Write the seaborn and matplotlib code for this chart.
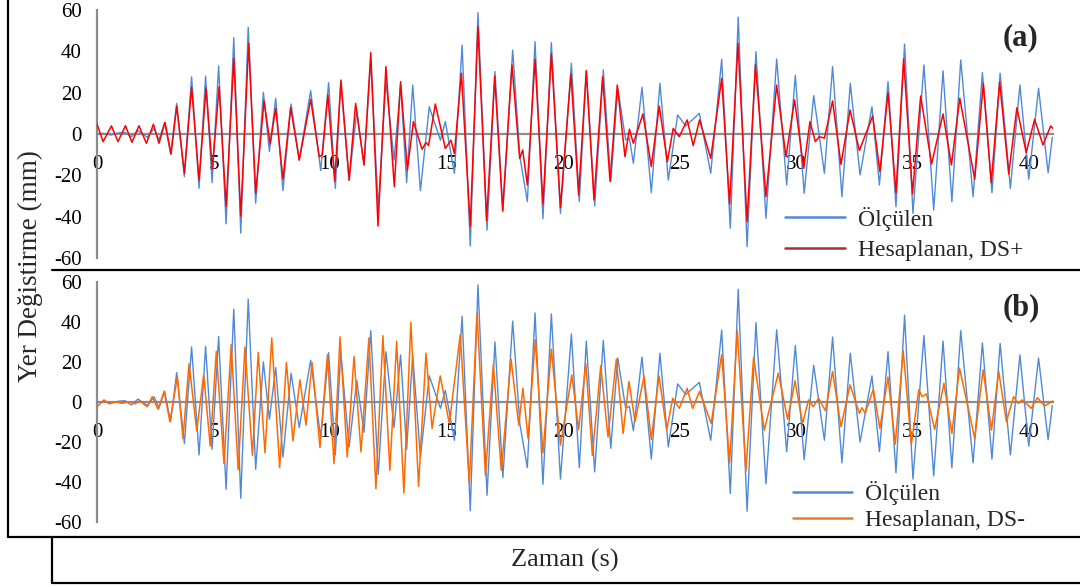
import matplotlib
matplotlib.use("Agg")
import matplotlib.pyplot as plt
from matplotlib.lines import Line2D
import pandas as pd
import seaborn as sns

# ---- measured displacement (Ölçülen): time [s], value [mm] at turning points ----
t_olc = [0.00, 0.26, 0.60, 0.90, 1.20, 1.47, 1.76, 2.16, 2.45, 2.66, 2.90, 3.16, 3.42, 3.75,
         4.06, 4.38, 4.66, 4.94, 5.22, 5.54, 5.87, 6.17, 6.49, 6.81, 7.14, 7.40, 7.67, 7.98,
         8.33, 8.68, 9.17, 9.60, 9.94, 10.23, 10.46, 10.82, 11.15, 11.46, 11.75, 12.07, 12.40,
         12.75, 13.03, 13.29, 13.55, 13.88, 14.26, 14.74, 14.95, 15.34, 15.67, 16.02, 16.35,
         16.74, 17.08, 17.42, 17.84, 18.15, 18.47, 18.80, 19.14, 19.50, 19.89, 20.36, 20.70,
         21.00, 21.36, 21.73, 22.05, 22.35, 22.69, 22.85, 23.02, 23.39, 23.79, 24.16, 24.52,
         24.92, 25.27, 25.85, 26.34, 26.81, 27.18, 27.52, 27.90, 28.28, 28.71, 29.17, 29.60,
         29.97, 30.35, 30.76, 31.22, 31.57, 31.97, 32.33, 32.75, 33.26, 33.58, 33.95, 34.29,
         34.66, 35.02, 35.49, 35.91, 36.31, 36.69, 37.07, 37.60, 38.00, 38.41, 38.76, 39.20,
         39.61, 39.99, 40.41, 40.82, 41.00]
v_olc = [0.0, 0.3, -0.5, 0.5, 0.8, -1.3, 1.6, -1.6, 2.7, -2.9, 5.6, -9.7, 14.8, -20.6,
         27.7, -26.3, 28.0, -23.5, 32.9, -43.5, 46.6, -48.0, 51.6, -33.5, 20.2, -8.5, 17.3, -27.4,
         14.5, -12.6, 21.0, -17.7, 24.8, -26.3, 24.8, -22.3, 10.8, -15.0, 35.8, -36.0, 25.3,
         -12.6, 23.7, -23.5, 23.7, -27.4, 13.2, -3.0, 6.0, -19.0, 43.0, -54.2, 58.7,
         -46.5, 30.2, -37.6, 40.6, -11.0, -32.7, 44.7, -41.0, 44.2, -38.4, 34.2, -32.7,
         30.6, -34.8, 31.0, -23.0, 22.1, -2.9, -2.0, -14.2, 22.6, -28.4, 24.5, -22.3,
         9.2, 3.9, 10.0, -19.0, 36.1, -45.6, 56.5, -54.5, 39.8, -40.8, 36.3, -24.7,
         28.4, -28.7, 18.5, -19.0, 32.6, -30.3, 24.5, -19.8, 13.2, -24.7, 25.3, -35.2,
         43.5, -38.4, 33.4, -36.8, 30.6, -32.7, 35.8, -30.3, 29.7, -28.4, 29.4, -26.3,
         23.7, -21.9, 22.1, -18.7, -1.6]

# ---- computed response, DS+ ----
t_dsp = [0.00, 0.26, 0.62, 0.90, 1.22, 1.50, 1.80, 2.12, 2.42, 2.66, 2.92, 3.18, 3.42, 3.75,
         4.06, 4.38, 4.68, 4.95, 5.24, 5.54, 5.87, 6.17, 6.51, 6.81, 7.17, 7.43, 7.67, 7.98,
         8.31, 8.68, 9.17, 9.54, 9.67, 9.91, 10.20, 10.47, 10.82, 11.10, 11.46, 11.75, 12.06,
         12.40, 12.76, 13.03, 13.32, 13.58, 13.95, 14.12, 14.23, 14.52, 14.95, 15.19, 15.34,
         15.64, 16.02, 16.35, 16.72, 17.07, 17.41, 17.81, 18.14, 18.27, 18.47, 18.80, 19.14,
         19.50, 19.89, 20.34, 20.67, 21.00, 21.33, 21.70, 22.02, 22.33, 22.66, 22.85, 23.02,
         23.43, 23.79, 24.13, 24.48, 24.73, 24.99, 25.33, 25.59, 25.86, 26.34, 26.81, 27.15,
         27.51, 27.90, 28.26, 28.71, 29.17, 29.57, 29.94, 30.33, 30.60, 30.83, 31.00, 31.22,
         31.57, 31.93, 32.32, 32.72, 33.29, 33.60, 33.95, 34.29, 34.62, 35.00, 35.35, 35.82,
         36.31, 36.67, 37.03, 37.67, 38.04, 38.38, 38.74, 39.13, 39.48, 39.88, 40.24, 40.60,
         40.93, 41.03]
v_dsp = [4.8, -3.7, 3.9, -3.7, 4.0, -4.0, 4.0, -4.5, 4.7, -4.5, 5.6, -9.7, 13.5, -19.0,
         22.6, -22.3, 22.3, -17.0, 22.9, -35.0, 36.6, -39.7, 43.9, -28.7, 16.1, -4.8, 12.4, -21.9,
         12.9, -12.6, 16.8, -11.0, -10.0, 18.9, -23.0, 26.1, -22.3, 14.8, -15.0, 39.4, -44.5,
         32.6, -25.5, 25.3, -17.4, 6.0, -7.4, -4.2, -5.6, 14.5, -7.0, -3.0, -9.4,
         29.4, -44.8, 51.9, -41.9, 28.0, -37.0, 33.4, -11.8, -7.7, -24.7, 36.1, -33.9,
         38.7, -35.5, 29.0, -29.5, 30.6, -31.9, 27.7, -23.0, 23.7, -11.0, 2.3, -4.5,
         9.7, -15.8, 13.5, -13.4, 2.7, -1.3, 6.8, -5.6, 6.8, -11.8, 26.9, -33.9,
         43.9, -42.4, 33.4, -30.3, 23.7, -11.0, 16.5, -16.6, 6.0, -3.7, -1.3, -2.0,
         16.0, -14.7, 11.6, -8.0, 8.7, -18.2, 20.0, -28.4, 36.4, -29.0, 18.4, -14.5,
         9.7, -15.0, 17.3, -21.9, 24.5, -23.5, 25.3, -19.4, 12.7, -9.0, 7.1, -5.3,
         3.9, 2.7]

# ---- computed response, DS- ----
t_dsm = [0.00, 0.30, 0.54, 0.76, 1.06, 1.40, 1.62, 1.83, 2.16, 2.37, 2.62, 2.88, 3.13, 3.45,
         3.69, 3.95, 4.28, 4.58, 4.86, 5.12, 5.45, 5.76, 6.06, 6.35, 6.67, 6.92, 7.21, 7.50,
         7.84, 8.13, 8.41, 8.71, 8.97, 9.23, 9.57, 9.89, 10.17, 10.43, 10.74, 11.03, 11.33,
         11.67, 11.97, 12.27, 12.57, 12.86, 13.17, 13.47, 13.80, 14.12, 14.38, 14.73, 15.12,
         15.59, 15.98, 16.31, 16.67, 17.01, 17.35, 17.77, 18.10, 18.28, 18.50, 18.81, 19.14,
         19.50, 19.89, 20.38, 20.67, 20.98, 21.26, 21.62, 21.93, 22.29, 22.58, 22.83, 23.09,
         23.48, 23.79, 24.12, 24.45, 24.71, 24.99, 25.33, 25.56, 25.86, 26.36, 26.81, 27.15,
         27.48, 27.85, 28.18, 28.64, 29.24, 29.64, 29.96, 30.28, 30.54, 30.74, 30.97, 31.26,
         31.57, 31.93, 32.32, 32.72, 32.83, 32.97, 33.32, 33.60, 33.95, 34.26, 34.60, 34.95,
         35.27, 35.42, 35.60, 35.95, 36.35, 36.69, 37.02, 37.67, 38.03, 38.39, 38.70, 39.03,
         39.34, 39.53, 39.71, 40.10, 40.36, 40.67, 41.03]
v_dsm = [-2.2, 1.2, -0.8, 0.3, -0.5, 0.3, -0.8, 0.7, -2.2, 2.8, -3.5, 5.4, -9.7, 12.9,
         -18.1, 19.3, -14.2, 13.7, -21.9, 25.5, -30.7, 28.8, -33.7, 27.6, -26.5, 25.0, -25.3, 32.2,
         -32.7, 19.9, -19.3, 11.2, -11.4, 19.9, -22.6, 23.8, -30.7, 32.7, -27.3, 22.9, -24.8,
         32.2, -43.2, 33.3, -34.0, 30.5, -45.4, 40.0, -42.0, 24.6, -13.1, 13.2, -10.6,
         33.8, -40.4, 44.7, -36.5, 18.8, -34.0, 21.6, -11.4, 7.0, -18.1, 31.3, -25.3,
         26.6, -21.4, 13.7, -13.6, 19.3, -26.5, 18.3, -17.3, 21.6, -15.6, 10.4, -9.7,
         13.2, -18.6, 13.2, -13.9, 2.0, -3.0, 7.0, -3.0, 5.4, -10.6, 23.8, -30.3,
         35.8, -34.3, 22.4, -13.9, 14.6, -8.5, 10.7, -10.6, 1.2, -2.2, 2.0, -4.2,
         15.4, -12.2, 8.7, -5.5, -2.7, -5.5, 6.5, -13.1, 12.6, -20.9, 25.8, -20.9,
         6.2, 2.8, 4.2, -13.6, 9.5, -15.6, 17.1, -18.1, 16.2, -13.9, 15.4, -9.7,
         2.8, -0.5, 1.2, -3.0, 2.3, -1.8, 0.7]

x_ticks = [0, 5, 10, 15, 20, 25, 30, 35, 40]
y_ticks = [-60, -40, -20, 0, 20, 40, 60]
lbl_olc = "Ölçülen"
lbl_dsp = "Hesaplanan, DS+"
lbl_dsm = "Hesaplanan, DS-"

BLUE = "#5089d8"
RED = "#ff0000"
RED_KEY = "#a83232"
ORANGE = "#ff6a00"
ORANGE_KEY = "#ec7a2c"
AXIS_GREY = "#8c8c8c"

sns.set_style("white")
plt.rcParams["font.family"] = ["Liberation Serif", "DejaVu Serif"]
plt.rcParams["lines.solid_joinstyle"] = "round"
plt.rcParams["path.simplify"] = False

W, H = 1080, 587
fig = plt.figure(figsize=(W / 100, H / 100), dpi=100)


def px_box(left, top, right, bottom):
    return [left / W, 1 - bottom / H, (right - left) / W, (bottom - top) / H]


def fx(x):
    return x / W


def fy(y):
    return 1 - y / H


ax_a = fig.add_axes(px_box(97, 10, 1053, 258))
ax_b = fig.add_axes(px_box(97, 282.3, 1053, 522.3))

df_olc = pd.DataFrame({"t": t_olc, "v": v_olc})
df_dsp = pd.DataFrame({"t": t_dsp, "v": v_dsp})
df_dsm = pd.DataFrame({"t": t_dsm, "v": v_dsm})

sns.lineplot(data=df_olc, x="t", y="v", ax=ax_a, color=BLUE, lw=1.0,
             estimator=None, sort=False, legend=False, zorder=3)
sns.lineplot(data=df_dsp, x="t", y="v", ax=ax_a, color=RED, lw=1.1,
             estimator=None, sort=False, legend=False, zorder=4)
sns.lineplot(data=df_olc, x="t", y="v", ax=ax_b, color=BLUE, lw=1.0,
             estimator=None, sort=False, legend=False, zorder=3)
sns.lineplot(data=df_dsm, x="t", y="v", ax=ax_b, color=ORANGE, lw=1.1,
             estimator=None, sort=False, legend=False, zorder=4)

for ax in (ax_a, ax_b):
    ax.patch.set_visible(False)
    ax.set_xlim(0, 41.03)
    ax.set_ylim(-60, 60)
    ax.set_xlabel("")
    ax.set_ylabel("")
    for side in ("top", "right"):
        ax.spines[side].set_visible(False)
    ax.spines["bottom"].set_position(("data", 0))
    for side in ("left", "bottom"):
        ax.spines[side].set_color(AXIS_GREY)
        ax.spines[side].set_linewidth(1.6)
        ax.spines[side].set_zorder(2)
    ax.set_xticks(x_ticks)
    ax.set_xticklabels([str(v) for v in x_ticks])
    ax.set_yticks(y_ticks)
    ax.set_yticklabels([str(v) for v in y_ticks])
    ax.tick_params(axis="x", direction="out", length=4, width=1.2, color=AXIS_GREY,
                   pad=11, labelsize=15, labelcolor="black")
    ax.tick_params(axis="y", length=0, pad=11, labelsize=15, labelcolor="black")
    ax.grid(False)

key_a = [Line2D([], [], color=BLUE, lw=1.8), Line2D([], [], color=RED_KEY, lw=1.8)]
key_b = [Line2D([], [], color=BLUE, lw=1.8), Line2D([], [], color=ORANGE_KEY, lw=1.8)]
ax_a.legend(key_a, [lbl_olc, lbl_dsp], loc="center left", frameon=False, fontsize=17,
            bbox_to_anchor=(fx(785), fy(234)), bbox_transform=fig.transFigure,
            borderpad=0, borderaxespad=0, handlelength=2.55, handletextpad=0.55,
            labelspacing=0.4)
ax_b.legend(key_b, [lbl_olc, lbl_dsm], loc="center left", frameon=False, fontsize=17,
            bbox_to_anchor=(fx(793), fy(506)), bbox_transform=fig.transFigure,
            borderpad=0, borderaxespad=0, handlelength=2.5, handletextpad=0.55,
            labelspacing=0.2)

fig.text(fx(1020), fy(38), "(a)", ha="center", va="center", fontsize=22, fontweight="bold")
fig.text(fx(1021), fy(308), "(b)", ha="center", va="center", fontsize=22, fontweight="bold")
fig.text(fx(30), fy(266), "Yer Değistirme (mm)", rotation=90, ha="center", va="center",
         fontsize=19.5)
fig.text(fx(565), fy(560), "Zaman (s)", ha="center", va="center", fontsize=19)

# panel frames
frame = [
    ((52, 270), (1080, 270)),
    ((8, 537), (1080, 537)),
    ((8, 0), (8, 537)),
    ((52, 537), (52, 583)),
    ((52, 583), (1080, 583)),
]
for (x0, y0), (x1, y1) in frame:
    fig.add_artist(Line2D([fx(x0), fx(x1)], [fy(y0), fy(y1)], color="black", lw=1.6,
                          transform=fig.transFigure))

fig.savefig("out.png", dpi=100)
